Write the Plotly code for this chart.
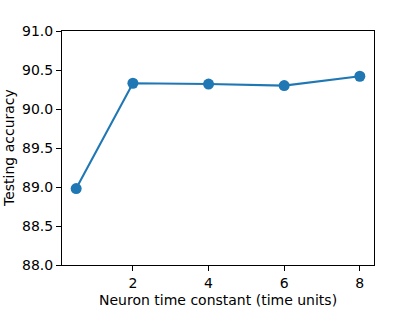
import plotly.graph_objects as go

time_constants = [0.5, 2, 4, 6, 8]
accuracy = [88.98, 90.33, 90.32, 90.30, 90.42]
y_ticks = [88.0, 88.5, 89.0, 89.5, 90.0, 90.5, 91.0]
x_ticks = [2, 4, 6, 8]
x_title = "Neuron time constant (time units)"
y_title = "Testing accuracy"

FONT = dict(family="DejaVu Sans", size=14, color="black")

fig = go.Figure()
fig.add_trace(go.Scatter(
    x=time_constants, y=accuracy, mode="lines+markers",
    line=dict(color="#1f77b4", width=2.1),
    marker=dict(color="#1f77b4", size=11),
))

axis_common = dict(
    showgrid=False, zeroline=False, showline=True, linecolor="black", linewidth=1.1,
    mirror=True, ticks="outside", ticklen=5, tickwidth=1.1, tickcolor="black",
    tickfont=FONT, automargin=False,
)
fig.update_xaxes(range=[0.125, 8.375], tickvals=x_ticks, ticktext=[str(v) for v in x_ticks],
                 **axis_common)
fig.update_yaxes(range=[88.0, 91.0], tickvals=y_ticks, ticktext=[f"{v:.1f}" for v in y_ticks],
                 **axis_common)
fig.add_annotation(text=x_title, xref="paper", yref="paper", x=0.5, y=0,
                   yshift=-35, yanchor="middle", xanchor="center", showarrow=False, font=FONT)
fig.add_annotation(text=y_title, xref="paper", yref="paper", x=0, y=0.5,
                   xshift=-53, xanchor="center", yanchor="middle", textangle=-90,
                   showarrow=False, font=FONT)
fig.update_layout(
    width=415, height=312,
    margin=dict(l=62, r=41, t=31, b=47, autoexpand=False),
    plot_bgcolor="white", paper_bgcolor="white",
    showlegend=False,
)
fig.write_html("out.html",
               config={"displayModeBar": False},
               post_script="document.body.style.margin='0';document.body.style.overflow='hidden';")
